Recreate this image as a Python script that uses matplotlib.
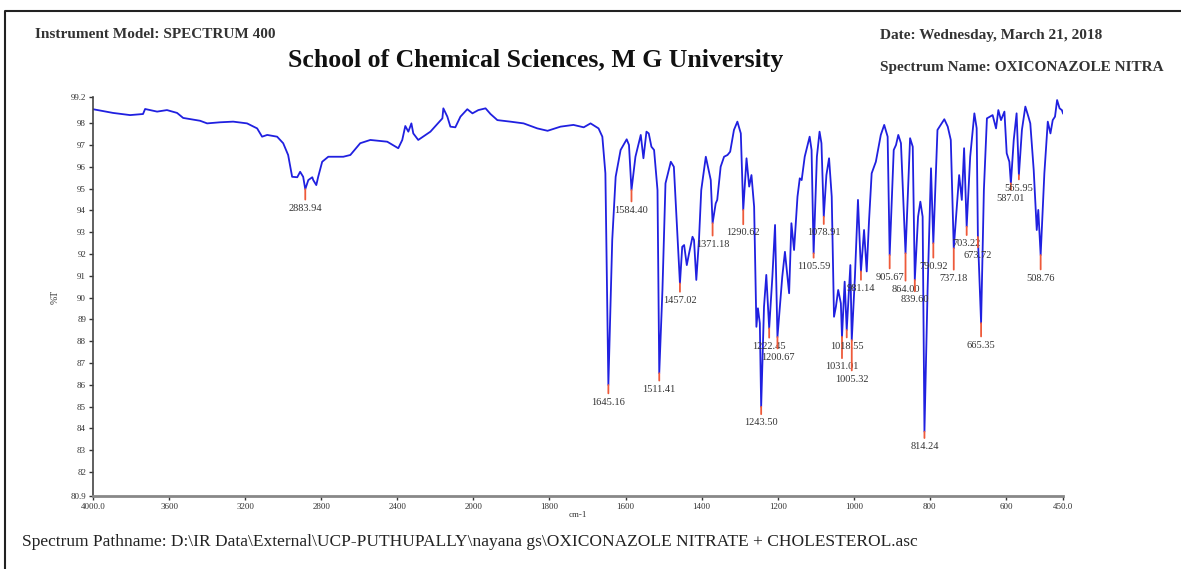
import numpy as np
import matplotlib
matplotlib.use("Agg")
from matplotlib import pyplot as plt
from matplotlib.lines import Line2D

plt.rcParams['font.family'] = ['Liberation Serif', 'DejaVu Serif']

# IR trace: wavenumber (cm-1) and transmittance (%T), read between the labelled minima
wavenumber = [
    4000, 3895, 3805, 3737, 3726, 3663, 3611, 3558, 3526, 3437, 3400, 3332, 3263,
    3190, 3137, 3111, 3084, 3032, 3000, 2974, 2953, 2926, 2911, 2895, 2868, 2847,
    2842, 2826, 2816, 2795, 2763, 2684, 2647, 2595, 2542, 2453, 2395, 2374, 2358,
    2342, 2326, 2316, 2290, 2226, 2163, 2158, 2137, 2121, 2095, 2068, 2032, 2005,
    1987, 1968, 1955, 1937, 1903, 1868, 1832, 1805, 1771, 1737, 1710, 1692, 1671,
    1661, 1653, 1635, 1626, 1613, 1597, 1591, 1574, 1560, 1553, 1545, 1539, 1532,
    1525, 1516, 1503, 1495, 1481, 1473, 1464, 1451, 1446, 1439, 1433, 1424, 1420,
    1414, 1407, 1401, 1389, 1376, 1363, 1359, 1350, 1341, 1332, 1325, 1315, 1306,
    1297, 1282, 1275, 1269, 1262, 1256, 1252, 1247, 1236, 1230, 1214, 1207, 1188,
    1181, 1170, 1164, 1157, 1148, 1142, 1137, 1129, 1116, 1111, 1097, 1090, 1085,
    1072, 1065, 1058, 1052, 1047, 1041, 1034, 1024, 1009, 997, 989, 973, 966, 960,
    953, 942, 929, 920, 911, 895, 889, 883, 876, 852, 845, 831, 825, 819, 806, 797,
    780, 762, 753, 745, 723, 716, 710, 694, 683, 677, 658, 650, 635, 626, 620, 613,
    604, 598, 591, 579.5, 572, 558, 549, 541, 536, 527, 519, 515, 499, 490, 483,
    477, 471, 465.5, 459, 453, 450,
]
transmittance = [
    98.64, 98.47, 98.37, 98.42, 98.65, 98.53, 98.60, 98.47, 98.24, 98.11, 97.99,
    98.04, 98.07, 97.99, 97.76, 97.38, 97.46, 97.38, 97.08, 96.54, 95.54, 95.52,
    95.77, 95.54, 95.39, 95.52, 95.39, 95.16, 95.54, 96.23, 96.46, 96.46, 96.54,
    97.08, 97.23, 97.15, 96.85, 97.23, 97.87, 97.61, 97.99, 97.53, 97.23, 97.61,
    98.22, 98.68, 98.30, 97.84, 97.81, 98.30, 98.64, 98.45,
    98.60, 98.68, 98.42, 98.14, 98.07, 97.99, 97.76, 97.65, 97.84, 97.92, 97.81,
    97.99, 97.76, 97.38, 95.70, 92.64, 95.54, 96.77, 97.26, 97.00, 96.46, 97.46,
    96.39, 97.61, 97.53, 96.92, 96.77, 94.93, 90.35, 95.24, 96.23, 96.00, 92.95,
    92.33, 92.41, 91.49, 92.03, 92.79, 92.64, 90.81, 92.64, 94.93, 96.46, 95.39,
    94.32, 94.48, 96.00, 96.46, 96.54, 96.69, 97.69, 98.07, 97.53, 96.39, 95.09,
    95.62, 94.17, 88.66, 89.51, 88.82, 89.58, 91.04, 90.96, 93.33, 90.96, 92.10,
    90.20, 93.41, 92.18, 94.63, 95.47, 95.39, 96.46, 97.38, 96.77, 96.46, 97.61,
    97.08, 95.62, 96.39, 94.63, 89.12, 89.58, 90.35, 89.74, 90.73, 91.49, 90.96,
    94.48, 93.10, 91.20, 93.50, 95.70, 96.23, 97.46, 97.92, 97.38, 96.77, 97.00,
    97.46, 97.08, 97.31, 96.92, 93.71, 94.40, 93.71, 90.35, 95.93, 97.69, 98.18,
    97.84, 97.23, 95.62, 94.48, 96.85, 96.46, 98.45, 97.77, 94.93, 98.22, 98.37,
    97.76, 98.60, 98.14, 98.53, 96.62, 96.23, 97.23, 98.45, 97.69, 98.76, 98.30,
    97.99, 95.85, 93.10, 94.02, 95.70, 98.07, 97.53, 98.14, 98.30, 99.06, 98.68,
    98.60, 98.45,
]

# labelled minima
peak_wn = [2883.94, 1645.16, 1584.40, 1511.41, 1457.02, 1371.18, 1290.62, 1243.50,
           1222.45, 1200.67, 1105.59, 1078.91, 1031.01, 1018.55, 1005.32, 981.14,
           905.67, 864.00, 839.60, 814.24, 790.92, 737.18, 703.22, 673.72, 665.35,
           587.01, 565.95, 508.76]
peak_t = [94.97, 85.99, 94.93, 86.53, 90.65, 93.41, 94.02, 84.99,
          88.59, 88.19, 92.03, 93.71, 88.20, 88.51, 88.05, 91.20,
          91.95, 92.03, 90.81, 83.85, 92.49, 92.26, 93.25, 92.78, 88.83,
          95.24, 95.62, 91.95]

# label drop below each minimum, in pixels
label_drop = [19, 17, 20, 16, 17, 21, 23, 16,
              18, 20, 13, 16, 30, 16, 39, 17,
              22, 36, 20, 15, 23, 30, 17, 19, 22,
              15, 13, 23]

x_ticks = [4000, 3600, 3200, 2800, 2400, 2000, 1800, 1600, 1400, 1200, 1000, 800, 600, 450]
x_tick_labels = ['4000.0', '3600', '3200', '2800', '2400', '2000', '1800', '1600',
                 '1400', '1200', '1000', '800', '600', '450.0']
y_ticks = [80.9] + list(range(82, 99)) + [99.2]
y_tick_labels = ['80.9'] + [str(v) for v in range(82, 99)] + ['99.2']

wn_all = np.concatenate([wavenumber, peak_wn])
t_all = np.concatenate([transmittance, peak_t])
order = np.argsort(-wn_all)
wn_all, t_all = wn_all[order], t_all[order]


# below 2000 cm-1 the axis is expanded two-fold
def fwd(x):
    x = np.asarray(x, dtype=float)
    return np.where(x >= 2000, x, 2 * x - 2000)


def inv(u):
    u = np.asarray(u, dtype=float)
    return np.where(u >= 2000, u, (u + 2000) / 2)


fig = plt.figure(figsize=(11.81, 5.69), dpi=100)
ax = fig.add_axes([93 / 1181, 1 - 496 / 569, 970 / 1181, 399 / 569])
ax.set_xscale('function', functions=(fwd, inv))
ax.plot(wn_all, t_all, color='#2020e0', lw=1.3, solid_joinstyle='round')
ax.set_xlim(4000, 450)
ax.set_ylim(80.9, 99.2)

for wn, t, drop in zip(peak_wn, peak_t, label_drop):
    ax.annotate(f'{wn:.2f}', xy=(wn, t), xytext=(0, -drop), textcoords='offset pixels',
                ha='center', va='center', fontsize=7.5, color='#333333',
                arrowprops=dict(arrowstyle='-', color='#ee5a3a', lw=1.3,
                                shrinkA=1, shrinkB=0))

ax.set_xticks(x_ticks)
ax.set_xticklabels(x_tick_labels)
ax.set_yticks(y_ticks)
ax.set_yticklabels(y_tick_labels)
ax.minorticks_off()
ax.tick_params(axis='both', labelsize=6.5, colors='#333333', length=3, width=1, pad=2)
for side in ('top', 'right'):
    ax.spines[side].set_visible(False)
ax.spines['left'].set_color('#444444')
ax.spines['left'].set_linewidth(1.2)
ax.spines['bottom'].set_color('#888888')
ax.spines['bottom'].set_linewidth(2)
ax.set_ylabel('%T', fontsize=7, color='#333333', labelpad=8)
ax.set_xlabel('cm-1', fontsize=6.5, color='#333333', labelpad=0)

# page header and footer
fig.text(35 / 1181, 1 - 35 / 569, 'Instrument Model: SPECTRUM 400', fontsize=11,
         fontweight='bold', color='#333333', va='center')
fig.text(536 / 1181, 1 - 61 / 569, 'School of Chemical Sciences, M G University',
         fontsize=18.5, fontweight='bold', color='#111111', ha='center', va='center')
fig.text(880 / 1181, 1 - 36 / 569, 'Date: Wednesday, March 21, 2018', fontsize=11,
         fontweight='bold', color='#333333', va='center')
fig.text(880 / 1181, 1 - 67 / 569, 'Spectrum Name: OXICONAZOLE NITRA',
         fontsize=11, fontweight='bold', color='#333333', va='center')
fig.text(22 / 1181, 1 - 542 / 569,
         'Spectrum Pathname: D:\\IR Data\\External\\UCP-PUTHUPALLY\\nayana gs\\'
         'OXICONAZOLE NITRATE + CHOLESTEROL.asc',
         fontsize=12.5, color='#222222', va='center')

# page frame
fig.add_artist(Line2D([5 / 1181, 5 / 1181, 1.0], [0.0, 1 - 11 / 569, 1 - 11 / 569],
                      transform=fig.transFigure, color='#222222', lw=1.5))

fig.savefig('out.png', dpi=100)
